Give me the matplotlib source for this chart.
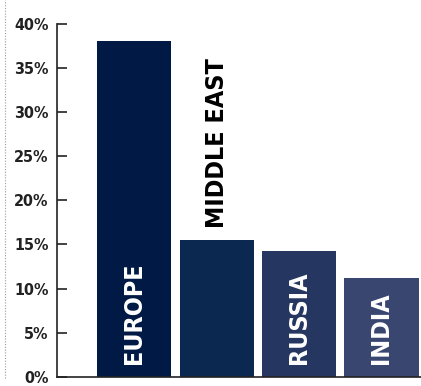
import matplotlib.pyplot as plt
from matplotlib.lines import Line2D
from matplotlib.ticker import FuncFormatter

# share by region (%)
regions = ['EUROPE', 'MIDDLE EAST', 'RUSSIA', 'INDIA']
shares = [38.1, 15.5, 14.2, 11.2]
colors = ['#001a45', '#0a2850', '#253660', '#384670']
label_colors = ['white', 'black', 'white', 'white']
yticks = [0, 5, 10, 15, 20, 25, 30, 35, 40]

fig = plt.figure(figsize=(4.21, 3.86), dpi=100)
ax = fig.add_axes([57 / 421, 9.3 / 386, 364 / 421, 352.7 / 386])

x = list(range(len(regions)))
ax.bar(x, shares, width=0.9, color=colors)

# region names written up the bars
for i, (name, val) in enumerate(zip(regions, shares)):
    if label_colors[i] == 'black':
        y0 = val + 1.4
    else:
        y0 = 1.4
    ax.text(i, y0, name, rotation=90, ha='center', va='bottom',
            color=label_colors[i], fontsize=18, fontweight='bold',
            family='DejaVu Sans', fontstretch='condensed')

ax.set_xlim(-0.937, 3.48)
ax.set_ylim(0, 40)
ax.set_yticks(yticks)
ax.yaxis.set_major_formatter(FuncFormatter(lambda v, p: f'{v:.0f}%'))
ax.set_xticks([])

for lab in ax.get_yticklabels():
    lab.set_family('DejaVu Sans')
    lab.set_fontstretch('condensed')
    lab.set_fontweight('bold')
    lab.set_fontsize(11.5)
    lab.set_color('#222222')

ax.tick_params(axis='y', direction='in', length=7.5, width=1.2,
               color='#222222', pad=6)
ax.spines['top'].set_visible(False)
ax.spines['right'].set_visible(False)
ax.spines['left'].set_color('#222222')
ax.spines['bottom'].set_color('#222222')
ax.spines['left'].set_linewidth(1.2)
ax.spines['bottom'].set_linewidth(1.2)

# dotted rule down the left edge
fig.add_artist(Line2D([5 / 421, 5 / 421], [0.02, 1.0], transform=fig.transFigure,
                      color='#999999', linestyle=(0, (1, 1.5)), linewidth=0.8))

fig.savefig('out.png', dpi=100)
